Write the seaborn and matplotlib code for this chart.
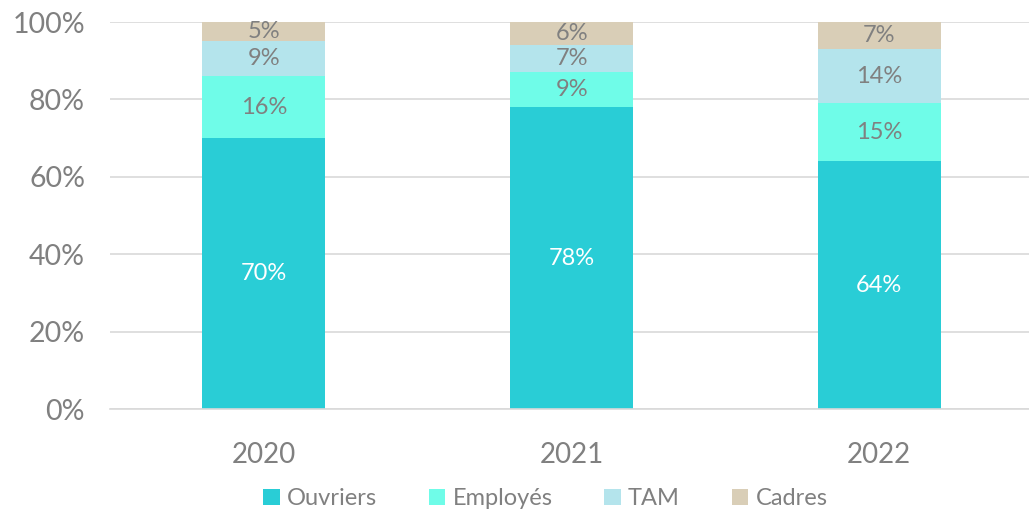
import matplotlib
matplotlib.use("Agg")
import matplotlib.pyplot as plt
import seaborn as sns
from matplotlib.patches import Patch

# Data (shares in %)
years = ["2020", "2021", "2022"]
categories = ["Ouvriers", "Employés", "TAM", "Cadres"]
ouvriers = [70, 78, 64]
employes = [16, 9, 15]
tam = [9, 7, 14]
cadres = [5, 6, 7]

colors = ["#29CDD6", "#6FFCE8", "#B4E4EC", "#D9CEB7"]
label_colors = ["white", "#808080", "#808080", "#808080"]
grey = "#808080"

sns.set_theme(style="white")
plt.rcParams["font.family"] = ["Lato", "DejaVu Sans"]

fig = plt.figure(figsize=(10.29, 5.12), dpi=100)
ax = fig.add_axes([0.107, 0.201, 0.897, 0.756])

series = [ouvriers, employes, tam, cadres]
bottom = [0, 0, 0]
for name, vals, col, lc in zip(categories, series, colors, label_colors):
    sns.barplot(x=years, y=vals, bottom=bottom, color=col, width=0.4,
                saturation=1, ax=ax, linewidth=0)
    container = ax.containers[-1]
    ax.bar_label(container, labels=[f"{v}%" for v in vals], label_type="center",
                 color=lc, fontsize=17)
    bottom = [b + v for b, v in zip(bottom, vals)]

ax.set_ylim(0, 100)
ax.set_yticks([0, 20, 40, 60, 80, 100])
ax.set_yticklabels([f"{t}%" for t in [0, 20, 40, 60, 80, 100]])
ax.yaxis.grid(True, color="#d9d9d9", linewidth=1.2)
ax.set_axisbelow(True)
for s in ["left", "right", "top"]:
    ax.spines[s].set_visible(False)
ax.spines["bottom"].set_color("#d9d9d9")
ax.spines["bottom"].set_linewidth(1.2)
ax.tick_params(axis="y", labelsize=20.5, colors=grey, length=0, pad=18)
ax.tick_params(axis="x", labelsize=20, colors=grey, length=0, pad=24)
ax.set_xlabel("")
ax.set_ylabel("")
if ax.get_legend() is not None:
    ax.get_legend().remove()

handles = [Patch(facecolor=c, edgecolor="none") for c in colors]
fig.legend(handles, categories, loc="center", bbox_to_anchor=(0.530, 0.026),
           ncol=4, frameon=False, fontsize=17, labelcolor=grey,
           handlelength=0.7, handleheight=0.7, handletextpad=0.3, columnspacing=2.2)

fig.savefig("out.png", dpi=100)
